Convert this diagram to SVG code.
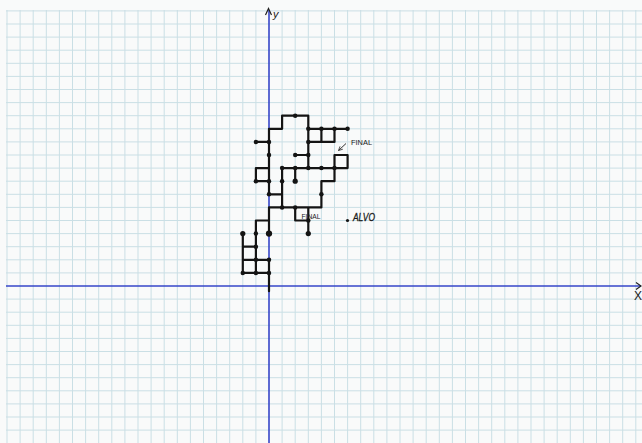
<svg xmlns="http://www.w3.org/2000/svg" width="642" height="443" viewBox="0 0 642 443">
<style>
.grid{stroke:#cadfe5;stroke-width:1;fill:none}
.axis{stroke:#3646c8;stroke-width:1.6;fill:none}
.ink{stroke:#141414;fill:none;stroke-linecap:round;stroke-linejoin:round}
.walk{stroke-width:2.2;vector-effect:non-scaling-stroke}
.dot{fill:#141414}
.lbl{font-family:"Liberation Sans",Arial,sans-serif;fill:#1a1a1a}
</style>
<defs>
<marker id="ah" viewBox="0 0 10 10" refX="9" refY="5" markerWidth="5" markerHeight="5" orient="auto">
<path d="M1 1 L9 5 L1 9" fill="none" stroke="#333" stroke-width="1.6"/>
</marker>
</defs>
<rect width="642" height="443" fill="#f9fafa"/>
<g id="grid">
<path class="grid" d="M7 10V443M20.1 10V443M33.2 10V443M46.3 10V443M59.4 10V443M72.5 10V443M85.6 10V443M98.7 10V443M111.8 10V443M124.9 10V443M138 10V443M151.1 10V443M164.2 10V443M177.3 10V443M190.4 10V443M203.5 10V443M216.6 10V443M229.7 10V443M242.8 10V443M255.9 10V443M282.1 10V443M295.2 10V443M308.3 10V443M321.4 10V443M334.5 10V443M347.6 10V443M360.7 10V443M373.8 10V443M386.9 10V443M400 10V443M413.1 10V443M426.2 10V443M439.3 10V443M452.4 10V443M465.5 10V443M478.6 10V443M491.7 10V443M504.8 10V443M517.9 10V443M531 10V443M544.1 10V443M557.2 10V443M570.3 10V443M583.4 10V443M596.5 10V443M609.6 10V443M622.7 10V443M635.8 10V443"/>
<path class="grid" d="M6 10.9H642M6 24H642M6 37.1H642M6 50.2H642M6 63.3H642M6 76.4H642M6 89.5H642M6 102.6H642M6 115.7H642M6 128.8H642M6 141.9H642M6 155H642M6 168.1H642M6 181.2H642M6 194.3H642M6 207.4H642M6 220.5H642M6 233.6H642M6 246.7H642M6 259.8H642M6 272.9H642M6 299.1H642M6 312.2H642M6 325.3H642M6 338.4H642M6 351.5H642M6 364.6H642M6 377.7H642M6 390.8H642M6 403.9H642M6 417H642M6 430.1H642"/>
</g>
<g id="axes">
<path class="axis" d="M6 286H641"/>
<path class="axis" d="M269 443V10" stroke-width="2"/>
<path d="M636 282.5L641 286L636 289.5" fill="none" stroke="#222" stroke-width="1.2"/>
<path d="M265.5 15L268.5 8.5L271.5 15" fill="none" stroke="#222" stroke-width="1.2"/>
<text class="lbl" x="273" y="18" font-size="11" font-style="italic">y</text>
<text class="lbl" x="634" y="300" font-size="12">X</text>
</g>
<g id="walk" transform="translate(269 286) scale(13.1 -13.1)">
<path class="ink walk" d="M0 12H1V13H3V9M3 12H6M3 11H5M4 12V11M5 12V11M2 10H3M5 10H6V9M5 10V9M1 9H6M2 9V8M1 9V6M0 7H1M0 12V7M-1 11H0M-1 9H0M-1 9V8H0M5 9V8H4V6H3M0 6H3M2 6V5H3M3 6V4M0 6V4M-1 5H0M-1 5V1M-2 4V1M-2 3H-1M-2 2H0M-2 1H0M0 2V-0.4"/>
<g class="dot">
<circle cx="2" cy="13" r="0.17"/><circle cx="3" cy="12" r="0.17"/><circle cx="4" cy="12" r="0.17"/><circle cx="5" cy="12" r="0.17"/><circle cx="6" cy="12" r="0.17"/>
<circle cx="3" cy="11" r="0.17"/><circle cx="0" cy="11" r="0.17"/><circle cx="-1" cy="11" r="0.17"/><circle cx="0" cy="10" r="0.17"/><circle cx="2" cy="10" r="0.17"/><circle cx="3" cy="10" r="0.17"/>
<circle cx="1" cy="9" r="0.17"/><circle cx="2" cy="9" r="0.17"/><circle cx="3" cy="9" r="0.17"/><circle cx="4" cy="9" r="0.17"/><circle cx="5" cy="9" r="0.17"/>
<circle cx="-1" cy="8" r="0.17"/><circle cx="0" cy="8" r="0.17"/><circle cx="1" cy="8" r="0.17"/><circle cx="2" cy="8" r="0.2"/>
<circle cx="0" cy="7" r="0.17"/><circle cx="4" cy="7" r="0.17"/><circle cx="1" cy="6" r="0.17"/><circle cx="2" cy="6" r="0.17"/><circle cx="3" cy="5" r="0.17"/><circle cx="3" cy="4" r="0.2"/>
<circle cx="0" cy="4" r="0.24"/><circle cx="-1" cy="4" r="0.17"/><circle cx="-2" cy="4" r="0.2"/><circle cx="-1" cy="3" r="0.17"/>
<circle cx="-1" cy="2" r="0.17"/><circle cx="0" cy="2" r="0.17"/><circle cx="-2" cy="1" r="0.17"/><circle cx="-1" cy="1" r="0.17"/><circle cx="0" cy="1" r="0.17"/>
</g>
</g>
<g id="final">
<text class="lbl" x="351" y="144.5" font-size="8" textLength="21" lengthAdjust="spacingAndGlyphs" fill="#333">FINAL</text>
<path d="M346 143.5L338.5 150.5" stroke="#333" stroke-width="1" marker-end="url(#ah)"/>
</g>
<g id="alvo">
<circle cx="347.5" cy="220.5" r="1.6" fill="#141414"/>
<text class="lbl" x="353" y="221" font-size="10.5" font-style="italic" textLength="22" lengthAdjust="spacingAndGlyphs" stroke="#1a1a1a" stroke-width="0.3">ALVO</text>
</g>
<text class="lbl" x="301.5" y="218.5" font-size="7.5" textLength="19" lengthAdjust="spacingAndGlyphs" fill="#d9dcdd">FINAL</text>
</svg>
